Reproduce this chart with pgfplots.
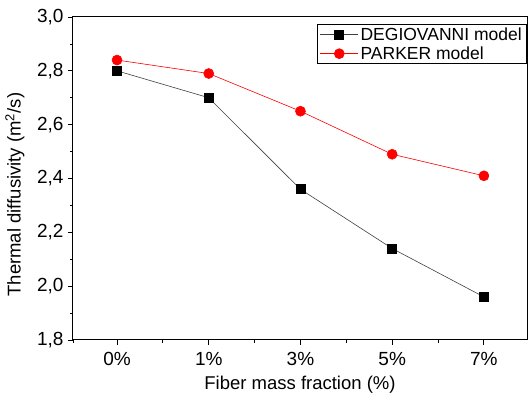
\documentclass[border=0pt]{standalone}
\usepackage{pgfplots}
\pgfplotsset{compat=1.18}
\usepackage{fontspec}
\setmainfont{Liberation Sans}
\begin{document}
\begin{tikzpicture}
\useasboundingbox (-73pt,-63pt) rectangle (455pt,340pt);
\begin{axis}[
  at={(0pt,0pt)}, anchor=south west,
  scale only axis, width=454pt, height=323pt,
  xmin=-0.48, xmax=4.47, ymin=1.8, ymax=3.0,
  xtick={0,1,2,3,4}, xticklabels={0\%,1\%,3\%,5\%,7\%},
  minor xtick={-0.48,0.5,1.5,2.5,3.5},
  ytick={1.8,2.0,...,3.01},
  minor ytick={1.9,2.1,...,2.95},
  tick align=outside, tick pos=left,
  major tick length=5pt, minor tick length=3pt,
  every tick/.style={black, line width=0.8pt},
  axis line style={line width=1pt},
  /pgf/number format/.cd, use comma, fixed, fixed zerofill, precision=1, assume math mode=true,
  /pgfplots/.cd,
  tick label style={font=\fontsize{19}{22}\selectfont},
  xticklabel style={yshift=-4pt},
  yticklabel style={xshift=-1pt},
  label style={font=\fontsize{18.5}{21}\selectfont},
  xlabel={Fiber mass fraction (\%)},
  ylabel={Thermal diffusivity (m\textsuperscript{2}/s)},
  xlabel style={at={(axis description cs:0.5,0)}, anchor=north, yshift=-33pt},
  ylabel style={at={(axis description cs:0,0.45)}, anchor=south, yshift=45pt},
  legend style={at={(1,0.978)}, anchor=north east, draw=black, line width=0.6pt,
    font=\fontsize{17.5}{19}\selectfont, row sep=1pt, inner xsep=3pt, inner ysep=1pt, cells={anchor=west}},
  legend image code/.code={\draw[#1] (0pt,0pt) -- (38pt,0pt); \draw[#1,mark repeat=1] plot coordinates {(19pt,0pt)};},
]
\addplot[black!75, line width=0.6pt, mark=square*, mark size=4.5pt, mark options={fill=black, draw=black}]
  coordinates {(0,2.80) (1,2.70) (2,2.36) (3,2.14) (4,1.96)};
\addlegendentry{DEGIOVANNI model}
\addplot[red, line width=0.6pt, mark=*, mark size=5pt, mark options={fill=red, draw=red}]
  coordinates {(0,2.84) (1,2.79) (2,2.65) (3,2.49) (4,2.41)};
\addlegendentry{PARKER model}
\end{axis}
\end{tikzpicture}
\end{document}
